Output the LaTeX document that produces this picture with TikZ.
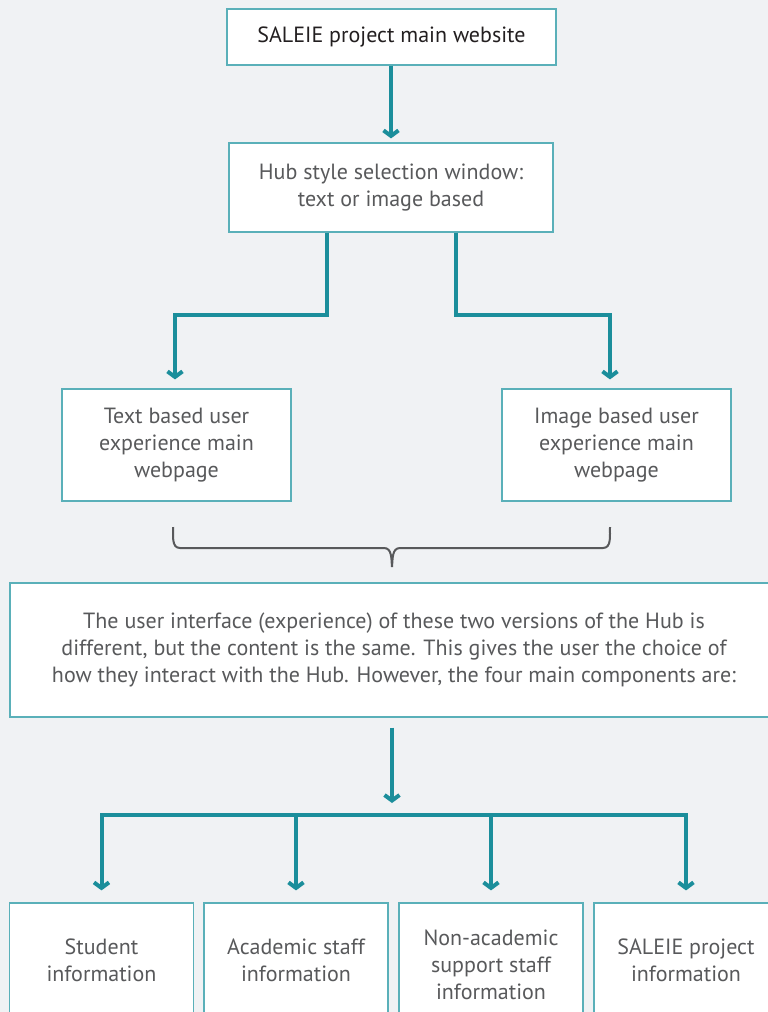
\documentclass[tikz,border=0pt]{standalone}
\usepackage{fontspec}
\setmainfont{PT Sans}
\usepackage{xcolor}
\usepackage{tikz}
\usetikzlibrary{arrows.meta}
\definecolor{bg}{HTML}{F0F2F4}
\definecolor{flow}{HTML}{1B8E9B}
\definecolor{edge}{HTML}{5AB0B9}
\definecolor{ink}{HTML}{231F20}
\definecolor{muted}{HTML}{58595B}
\tikzset{
  box/.style={draw=edge, fill=white, line width=1.2pt, align=center, text=muted, inner sep=0pt,
    font=\fontsize{22}{27}\selectfont},
  cell/.style={box, minimum width=184pt, minimum height=114pt},
  link/.style={draw=flow, line width=4pt, -{Straight Barb[length=5.5pt,width=15pt]}},
  bar/.style={draw=flow, line width=4pt, line cap=rect},
  brc/.style={draw=muted, line width=2pt}
}
\begin{document}
\begin{tikzpicture}[x=1pt,y=-1pt]
\useasboundingbox (0,0) rectangle (768,1012);
\fill[bg] (0,0) rectangle (768,1012);
\clip (0,0) rectangle (768,1012);
\node[box, text=ink, minimum width=329pt, minimum height=56pt] (top) at (391.5,37) {SALEIE project main website};
\node[box, minimum width=324pt, minimum height=89pt] (hub) at (391,187.5) {Hub style selection window:\\text or image based};
\node[box, minimum width=229pt, minimum height=112pt] (txt) at (176.5,445) {Text based user\\experience main\\webpage};
\node[box, minimum width=229pt, minimum height=112pt] (img) at (616.5,445) {Image based user\\experience main\\webpage};
\node[box, minimum width=768pt, minimum height=134pt] (note) at (394,650) {The user interface (experience) of these two versions of the Hub is\\different, but the content is the same. This gives the user the choice of\\how they interact with the Hub. However, the four main components are:};
\node[cell] (stu) at (101.5,960) {Student\\information};
\node[cell] (aca) at (296,960) {Academic staff\\information};
\node[cell] (sup) at (491,960) {\rule{0pt}{26pt}Non-academic\\support staff\\information};
\node[cell] (sal) at (686,960) {SALEIE project\\information};
\coordinate (hl) at (327,315);
\coordinate (hr) at (456,315);
\coordinate (bar) at (392,815);
% arrows
\draw[link, shorten >=4pt] (top.south -| 391,0) -- (hub.north -| 391,0);
\draw[link, shorten >=9pt] (hub.south -| hl) |- (175,315) -- (txt.north -| 175,0);
\draw[link, shorten >=9pt] (hub.south -| hr) |- (610,315) -- (img.north -| 610,0);
% brace
\draw[brc] (173,527) to[out=-88,in=180] (180,548) -- (384,548) to[out=0,in=95] (392,567)
  to[out=85,in=180] (400,548) -- (603,548) to[out=0,in=-92] (610,527);
\draw[link, shorten <=10pt, shorten >=12pt] (note.south -| bar) -- (bar);
\draw[bar] (stu.north |- bar) -- (sal.north |- bar);
\draw[link, shorten >=12pt] (stu.north |- bar) -- (stu.north);
\draw[link, shorten >=12pt] (aca.north |- bar) -- (aca.north);
\draw[link, shorten >=12pt] (sup.north |- bar) -- (sup.north);
\draw[link, shorten >=12pt] (sal.north |- bar) -- (sal.north);
\end{tikzpicture}
\end{document}
